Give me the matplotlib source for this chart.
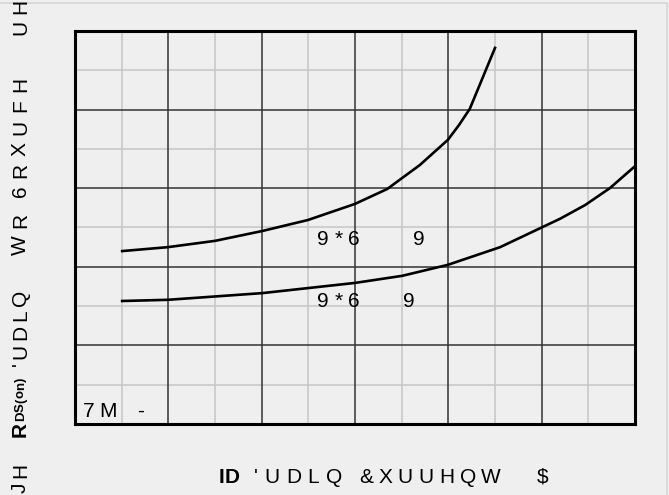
import matplotlib
matplotlib.use("Agg")
import matplotlib.pyplot as plt
from matplotlib.patches import Rectangle

# curve data, in grid units (x: 12 minor divisions, y: 10 minor divisions)
upper_x = [1.01, 1.99, 3.0, 4.01, 4.99, 6.0, 6.69, 7.39, 7.99, 8.23, 8.46, 9.0]
upper_y = [4.40, 4.50, 4.66, 4.91, 5.19, 5.60, 5.98, 6.59, 7.23, 7.61, 8.02, 9.57]
lower_x = [1.01, 1.99, 4.01, 6.0, 7.01, 7.99, 9.11, 10.39, 10.93, 11.46, 12.0]
lower_y = [3.13, 3.16, 3.33, 3.59, 3.77, 4.05, 4.50, 5.22, 5.57, 6.0, 6.56]

# garbled datasheet text, kept as shown
xlabel_bold = "ID"
xlabel_words = ["'UDLQ", "&XUUHQW", "$"]
ylabel_words = ["JH", "'UDLQ", "WR", "6RXUFH", "UH"]
ylabel_bold = ("R", "DS(on)")
curve_labels = [("9*6", "9"), ("9*6", "9")]
corner_label = ("7M", "-")

plt.rcParams['font.family'] = ['Liberation Sans', 'DejaVu Sans']
bg = '#efefef'
W, H = 669, 495

fig = plt.figure(figsize=(6.69, 4.95), dpi=100, facecolor=bg)
fig.patches.append(Rectangle((-0.01, -0.01), 667 / W + 0.01, (H - 3) / H + 0.01,
                             transform=fig.transFigure, fill=False,
                             edgecolor='#d6d6d6', lw=1.2))

ax = fig.add_axes([75 / W, (H - 424) / H, 560 / W, 393 / H], facecolor=bg)
ax.set_xlim(0, 12)
ax.set_ylim(0, 10)

# grid: minor light, major dark
for x in range(1, 12, 2):
    ax.axvline(x, color='#c6c6c6', lw=1.1, zorder=1)
for y in range(1, 10, 2):
    ax.axhline(y, color='#c6c6c6', lw=1.1, zorder=1)
for x in range(2, 12, 2):
    ax.axvline(x, color='#333333', lw=1.1, zorder=2)
for y in range(2, 10, 2):
    ax.axhline(y, color='#333333', lw=1.1, zorder=2)

ax.plot(upper_x, upper_y, color='black', lw=1.9, zorder=3, solid_joinstyle='round')
ax.plot(lower_x, lower_y, color='black', lw=1.9, zorder=3, solid_joinstyle='round')

for sp in ax.spines.values():
    sp.set_linewidth(2.2)
    sp.set_color('black')
ax.set_xticks([])
ax.set_yticks([])

renderer = fig.canvas.get_renderer()


def char_width(ch, size, weight):
    t = fig.text(0, 0, ch, fontsize=size, fontweight=weight)
    w = t.get_window_extent(renderer).width
    t.remove()
    return w


def draw_word(word, start, base, size=15, weight='normal', end=None, track=7.0,
              vertical=False):
    # places the letters one by one with extra letter spacing (pixels, from top-left)
    widths = [char_width(c, size, weight) for c in word]
    if end is not None and len(word) > 1:
        track = (abs(end - start) - sum(widths)) / (len(word) - 1)
    pos = start
    for c, w in zip(word, widths):
        if vertical:
            fig.text(base / W, 1 - pos / H, c, fontsize=size, fontweight=weight,
                     rotation=90, rotation_mode='anchor', ha='left', va='baseline')
            pos -= w + track
        else:
            fig.text(pos / W, 1 - base / H, c, fontsize=size, fontweight=weight,
                     ha='left', va='baseline')
            pos += w + track


# labels inside the grid
draw_word(curve_labels[0][0], 317, 245, end=360)
draw_word(curve_labels[0][1], 413, 245)
draw_word(curve_labels[1][0], 317, 307, end=360)
draw_word(curve_labels[1][1], 403, 307)
draw_word(corner_label[0], 83, 417, end=117)
draw_word(corner_label[1], 137, 417)

# x label
draw_word(xlabel_bold, 219, 483, weight='bold', track=0)
draw_word(xlabel_words[0], 254, 483, end=342)
draw_word(xlabel_words[1], 359, 483, end=501)
draw_word(xlabel_words[2], 537, 483)

# y label, rotated, reading upward
draw_word(ylabel_words[0], 493, 26, vertical=True, track=5)
draw_word(ylabel_bold[0], 437, 26, weight='bold', vertical=True)
draw_word(ylabel_bold[1], 421, 24, size=9.5, weight='bold', vertical=True, track=0)
draw_word(ylabel_words[1], 366, 26, end=290, vertical=True)
draw_word(ylabel_words[2], 255, 26, end=213, vertical=True)
draw_word(ylabel_words[3], 197, 26, end=77, vertical=True)
draw_word(ylabel_words[4], 35, 26, vertical=True, track=6)

fig.savefig('out.png', dpi=100, facecolor=bg)
